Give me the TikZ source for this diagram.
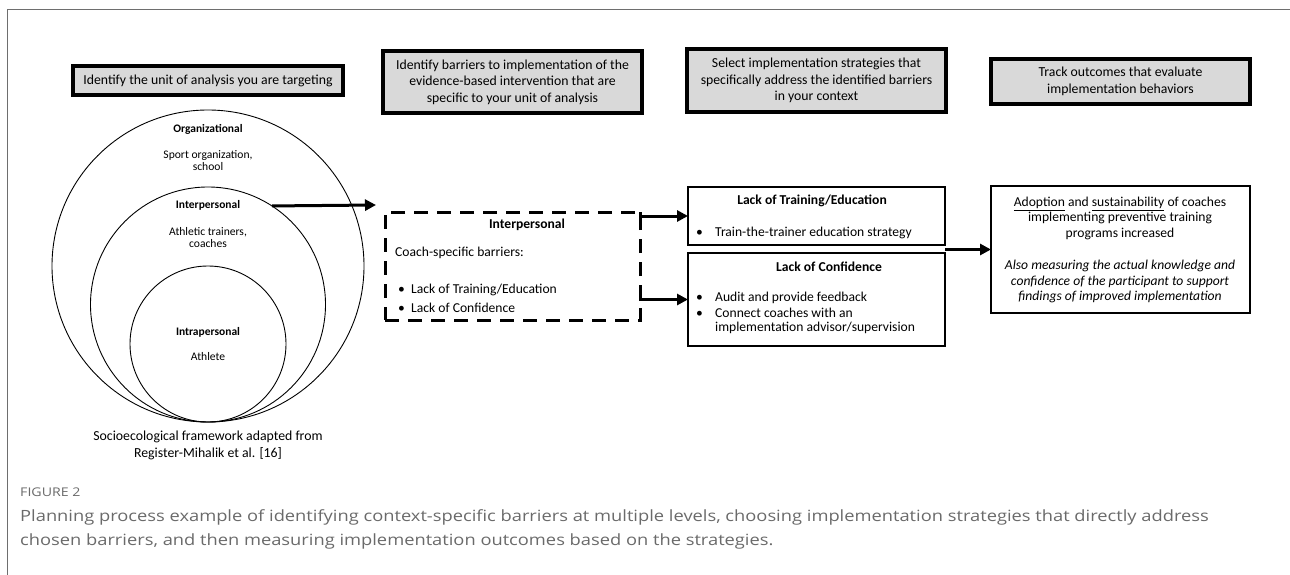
\documentclass[tikz,border=0pt]{standalone}
\usepackage{fontspec}
\setmainfont{Carlito}
\newfontfamily\capfont[FakeStretch=1.18]{Open Sans}
\usetikzlibrary{arrows.meta,calc}
\definecolor{hdrfill}{HTML}{D9D9D9}
\definecolor{framegray}{HTML}{6E6E6E}
\definecolor{capgray}{HTML}{6A6A6A}
\begin{document}
\begin{tikzpicture}[x=1pt,y=-1pt,
  hdr/.style={draw=black,line width=3.4pt,fill=hdrfill,inner sep=0pt,outer sep=0pt,align=center,
    font=\fontsize{13.75}{16.5}\selectfont},
  sbox/.style={draw=black,line width=2.8pt,fill=white,inner sep=0pt,outer sep=0pt},
  ring/.style={draw=black,line width=0.9pt,circle,inner sep=0pt,outer sep=0pt},
  ctitle/.style={font=\fontsize{11.5}{12}\selectfont\bfseries,inner sep=0pt},
  ctext/.style={font=\fontsize{11.6}{12}\selectfont,align=center,inner sep=0pt},
  btitle/.style={font=\fontsize{13.6}{15.5}\selectfont\bfseries,inner sep=0pt},
  btext/.style={font=\fontsize{13.6}{15.5}\selectfont,inner sep=0pt,anchor=west,align=left},
  arr/.style={line width=3pt,-{Triangle[length=11pt,width=11pt]}}
]
\useasboundingbox (0,0) rectangle (1290,575);
% frame
\draw[framegray,line width=1pt] (7,575) -- (7,10) -- (1290,10);

% header boxes
\node[hdr,minimum width=270,minimum height=29] (h1) at (208,80.5) {Identify the unit of analysis you are targeting};
\node[hdr,minimum width=259,minimum height=62] (h2) at (512.5,82) {Identify barriers to implementation of the\\evidence-based intervention that are\\specific to your unit of analysis};
\node[hdr,minimum width=259,minimum height=63] (h3) at (816.5,80.5) {Select implementation strategies that\\specifically address the identified barriers\\in your context};
\node[hdr,minimum width=259,minimum height=45] (h4) at (1120.5,81.5) {Track outcomes that evaluate\\implementation behaviors};

% circles
\node[ring,minimum size=312] (outer) at (208,266) {};
\node[ring,minimum size=235] (mid) at (208,304.5) {};
\node[ring,minimum size=156] (inner) at (208,344) {};
\node[ctitle] (t1) at (208,129) {Organizational};
\node[ctext] (t1b) at (208,161) {Sport organization,\\school};
\node[ctitle] (t2) at (208,205) {Interpersonal};
\node[ctext] (t2b) at (208,237.5) {Athletic trainers,\\coaches};
\node[ctitle] (t3) at (208,332) {Intrapersonal};
\node[ctext] (t3b) at (208,357) {Athlete};
\node[align=center,inner sep=0pt,font=\fontsize{13.8}{17}\selectfont] (fw) at (208,445) {Socioecological framework adapted from\\Register-Mihalik et al. [16]};

% dashed box
\node[draw=black,line width=3pt,dash pattern=on 14pt off 9pt,minimum width=255,minimum height=108,inner sep=0pt,outer sep=0pt] (dash) at (512.5,266) {};
\node[btitle] (dt) at (527,225) {Interpersonal};
\node[btext] (dl) at (395,253) {Coach-specific barriers:};
\node[btext] (dl1) at (398,290) {\makebox[13pt][l]{•}Lack of Training/Education};
\node[btext] (dl2) at (398,308) {\makebox[13pt][l]{•}Lack of Confidence};

% strategy boxes
\node[sbox,minimum width=257,minimum height=58] (A) at (816.5,216) {};
\node[btitle] (At) at (812,201) {Lack of Training/Education};
\node[btext] (A1) at (696,233) {\makebox[19pt][l]{•}Train-the-trainer education strategy};
\node[sbox,minimum width=257,minimum height=93] (B) at (816.5,299.5) {};
\node[btitle] (Bt) at (829,267) {Lack of Confidence};
\node[btext] (B1) at (696,298) {\makebox[19pt][l]{•}Audit and provide feedback};
\node[btext] (B2) at (696,313) {\makebox[19pt][l]{•}Connect coaches with an};
\node[btext] (B3) at (715,328) {implementation advisor/supervision};

% outcome box
\node[sbox,minimum width=259,minimum height=127] (out) at (1120.5,249.5) {};
\node[align=center,inner sep=0pt,font=\fontsize{13.6}{15.8}\selectfont] (ot) at (1120,250) {\underline{Adoption} and \underline{sustainability} of coaches\\implementing preventive training\\programs increased\\[15.8pt]\textit{Also measuring the actual knowledge and}\\\textit{confidence of the participant to support}\\\textit{findings of improved implementation}};

% connectors
\coordinate (ce) at (376,205);
\draw[arr] (mid.57.9) -- (ce);
\draw[arr] (dash.north east) |- (A.west);
\draw[arr] (dash.-9.4) |- (B.west);
\draw[arr] (A.south east |- out.west) -- (out.west);

% figure caption
\node[anchor=west,inner sep=0pt,text=capgray,font=\capfont\fontsize{12}{12}\selectfont] (fig) at (20,492) {FIGURE 2};
\node[anchor=west,inner sep=0pt,text=capgray,font=\capfont\fontsize{15.5}{24}\selectfont] (cap1) at (20,517) {Planning process example of identifying context-specific barriers at multiple levels, choosing implementation strategies that directly address};
\node[anchor=west,inner sep=0pt,text=capgray,font=\capfont\fontsize{15.5}{24}\selectfont] (cap2) at (20,541) {chosen barriers, and then measuring implementation outcomes based on the strategies.};
\end{tikzpicture}
\end{document}
